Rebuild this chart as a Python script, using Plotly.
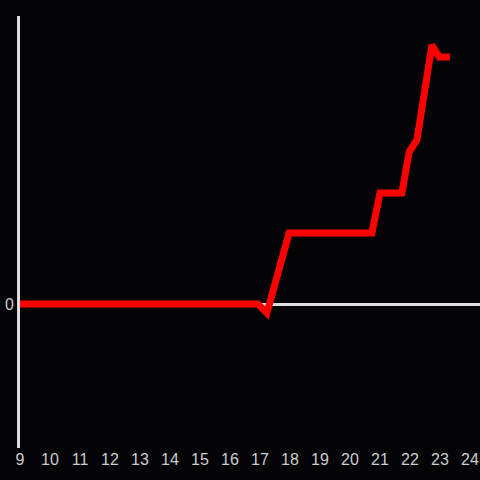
import plotly.graph_objects as go

hours = [9, 16.93, 17.23, 17.97, 20.73, 21.0, 21.73, 21.97, 22.23, 22.73, 22.97, 23.33]
values = [0, 0, -9, 71, 71, 111, 111, 152, 164, 259, 247, 247]
x_ticks = list(range(9, 25))

fig = go.Figure()
fig.add_trace(go.Scatter(x=hours, y=values, mode="lines",
                         line=dict(color="#ff0000", width=7), hoverinfo="skip"))
fig.update_layout(
    width=480, height=480,
    paper_bgcolor="#040306", plot_bgcolor="#040306",
    margin=dict(l=20, r=0, t=16, b=32),
    showlegend=False,
    font=dict(family="Liberation Sans, Arial, sans-serif", size=16, color="#cccccc"),
    xaxis=dict(range=[9, 24.333], tickvals=x_ticks, showgrid=False, zeroline=False,
               showline=False, ticks="", automargin=False,
               tickfont=dict(size=16, color="#cccccc")),
    yaxis=dict(range=[-144, 288], tickvals=[0], showgrid=False, zeroline=True,
               zerolinecolor="#dddddd", zerolinewidth=3, showline=True,
               linecolor="#dddddd", linewidth=3, ticks="", automargin=False,
               ticklabelstandoff=0,
               tickfont=dict(size=16, color="#cccccc")),
)
fig.write_html(
    "out.html",
    config={"displayModeBar": False},
    post_script="document.body.style.margin='0';document.body.style.background='#040306';document.body.style.overflow='hidden';",
)
